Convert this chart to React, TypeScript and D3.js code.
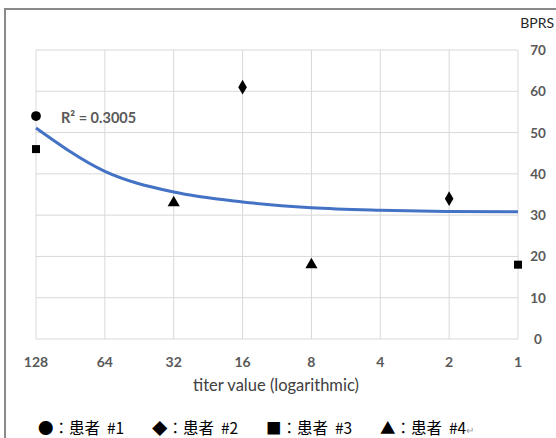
import * as d3 from 'd3';
import React, { useEffect, useRef } from 'react';

// titer ticks on the log axis (reversed: 128 on the left)
const titerTicks = [128, 64, 32, 16, 8, 4, 2, 1];
const bprsTicks = [0, 10, 20, 30, 40, 50, 60, 70];

// patients' points: titer value and BPRS score
const patient1 = [{ titer: 128, bprs: 54 }];
const patient2 = [
  { titer: 16, bprs: 61 },
  { titer: 2, bprs: 34 },
];
const patient3 = [
  { titer: 128, bprs: 46 },
  { titer: 1, bprs: 18 },
];
const patient4 = [
  { titer: 32, bprs: 33 },
  { titer: 8, bprs: 18 },
];

const trendValues = [51.1, 40.6, 35.6, 33.2, 31.8, 31.2, 30.9, 30.8];
const rSquared = 'R² = 0.3005';

const legendItems = ['●：患者\u00a0 #1', '◆：患者\u00a0 #2', '■：患者\u00a0 #3', '▲：患者\u00a0 #4'];

function App() {
  const ref = useRef<SVGSVGElement>(null);

  useEffect(() => {
    document.body.style.margin = '0';
    var svg = d3.select(ref.current);
    svg.selectAll('*').remove();

    var left = 36, right = 518, top = 50, bottom = 339;
    var x = d3.scaleLog().base(2).domain([128, 1]).range([left, right]);
    var y = d3.scaleLinear().domain([0, 70]).range([bottom, top]);
    var labelFont = 'Lato, "Open Sans", sans-serif';

    // outer frame
    svg.append('rect')
      .attr('x', 5).attr('y', 9)
      .attr('width', 560).attr('height', 440)
      .attr('fill', 'none')
      .attr('stroke', '#8a8a8a')
      .attr('stroke-width', 2);

    // gridlines
    svg.append('g').selectAll('line')
      .data(bprsTicks)
      .enter().append('line')
      .attr('x1', left).attr('x2', right)
      .attr('y1', d => y(d)).attr('y2', d => y(d))
      .attr('stroke', '#d9d9d9');
    svg.append('g').selectAll('line')
      .data(titerTicks)
      .enter().append('line')
      .attr('x1', d => x(d)).attr('x2', d => x(d))
      .attr('y1', top).attr('y2', bottom)
      .attr('stroke', '#d9d9d9');

    // tick labels
    svg.append('g').selectAll('text')
      .data(titerTicks)
      .enter().append('text')
      .attr('x', d => x(d))
      .attr('y', 367)
      .attr('text-anchor', 'middle')
      .attr('font-family', labelFont)
      .attr('font-weight', 'bold')
      .attr('font-size', 14)
      .attr('fill', '#595959')
      .text(d => d);
    svg.append('g').selectAll('text')
      .data(bprsTicks)
      .enter().append('text')
      .attr('x', 538)
      .attr('y', d => y(d) + 5)
      .attr('text-anchor', 'middle')
      .attr('font-family', labelFont)
      .attr('font-weight', 'bold')
      .attr('font-size', 13.5)
      .attr('fill', '#595959')
      .text(d => d);

    svg.append('text')
      .attr('x', 554).attr('y', 28)
      .attr('text-anchor', 'end')
      .attr('font-family', labelFont)
      .attr('font-size', 14)
      .attr('fill', '#262626')
      .text('BPRS');

    svg.append('text')
      .attr('x', 276).attr('y', 391)
      .attr('text-anchor', 'middle')
      .attr('font-family', labelFont)
      .attr('font-size', 16.5)
      .attr('fill', '#404040')
      .text('titer value (logarithmic)');

    // trendline
    var line = d3.line<number>()
      .x((d, i) => x(titerTicks[i]))
      .y(d => y(d))
      .curve(d3.curveMonotoneX);
    svg.append('path')
      .datum(trendValues)
      .attr('d', line)
      .attr('fill', 'none')
      .attr('stroke', '#4472c4')
      .attr('stroke-width', 3);

    svg.append('text')
      .attr('x', 61).attr('y', 123)
      .attr('font-family', labelFont)
      .attr('font-weight', 'bold')
      .attr('font-size', 14.5)
      .attr('fill', '#595959')
      .text(rSquared);

    // markers
    var series = [
      { data: patient1, type: d3.symbolCircle, size: 75 },
      { data: patient2, type: d3.symbolDiamond, size: 64 },
      { data: patient3, type: d3.symbolSquare, size: 64 },
      { data: patient4, type: d3.symbolTriangle, size: 64 },
    ];
    series.forEach(function (s) {
      svg.append('g').selectAll('path')
        .data(s.data)
        .enter().append('path')
        .attr('transform', d => 'translate(' + x(d.titer) + ',' + y(d.bprs) + ')')
        .attr('d', d3.symbol().type(s.type).size(s.size)())
        .attr('fill', '#000');
    });

    // legend
    var legend = svg.append('text')
      .attr('x', 40).attr('y', 434)
      .attr('font-family', '"Noto Sans CJK TC", "Noto Sans", sans-serif')
      .attr('font-size', 15.5)
      .attr('fill', '#000');
    legendItems.forEach(function (t, i) {
      legend.append('tspan')
        .attr('x', 38 + i * 114)
        .text(t);
    });
    legend.append('tspan')
      .attr('font-size', 10)
      .attr('fill', '#999')
      .text('↵');
  }, []);

  return <svg ref={ref} width={556} height={438} style={{ display: 'block' }} />;
}

export default App;
